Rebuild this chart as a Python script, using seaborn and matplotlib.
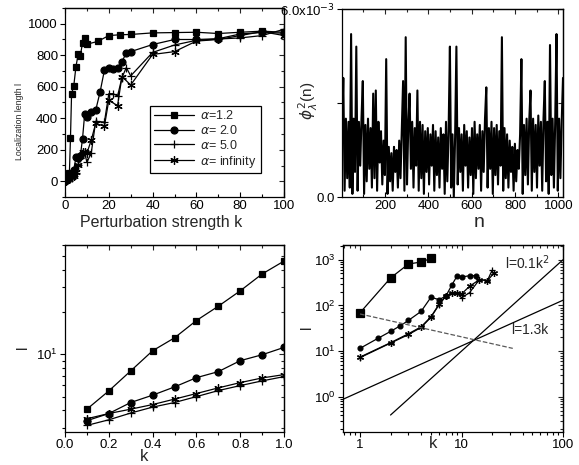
import numpy as np
import matplotlib
matplotlib.use("Agg")
import matplotlib.pyplot as plt
import seaborn as sns
from matplotlib.ticker import MultipleLocator, NullFormatter, FuncFormatter, FixedLocator

sns.set_style("ticks")
plt.rcParams["font.family"] = ["Liberation Sans", "DejaVu Sans"]
plt.rcParams["axes.linewidth"] = 0.9

# ---- top left: localization length vs perturbation strength
k_a12 = [0, 0.5, 1, 1.5, 2, 2.5, 3, 4, 5, 6, 7, 8, 9, 10, 15, 20, 25, 30, 40, 50, 60, 70, 80, 90, 100]
l_a12 = [5, 20, 35, 45, 50, 275, 555, 605, 728, 805, 795, 880, 910, 870, 888, 925, 930, 932,
         942, 944, 946, 938, 946, 953, 946]
k_a20 = [0, 0.5, 1, 1.5, 2, 2.5, 3, 4, 5, 6, 7, 8, 9, 10, 12, 14, 16, 18, 20, 22, 24, 26, 28, 30,
         40, 50, 60, 70, 80, 90, 100]
l_a20 = [3, 6, 11.5, 19, 27, 36, 47, 74, 151, 145, 160, 270, 430, 410, 440, 450, 566, 705, 716,
         712, 722, 760, 814, 823, 868, 900, 900, 905, 935, 945, 940]
k_a5 = [0, 0.5, 1, 2, 3, 4, 5, 6, 7, 8, 9, 10, 12, 14, 18, 20, 22, 24, 26, 28, 30,
        40, 50, 60, 70, 80, 90, 100]
l_a5 = [2, 4, 7, 15, 23, 33, 55, 105, 150, 185, 180, 120, 180, 380, 376, 556, 556, 541, 658, 722, 669,
        818, 865, 895, 903, 910, 925, 965]
k_ainf = [0, 0.5, 1, 2, 3, 4, 5, 6, 7, 8, 9, 10, 12, 14, 18, 20, 24, 26, 30,
          40, 50, 60, 70, 80, 90, 100]
l_ainf = [2, 4, 7.4, 15.3, 24, 34, 56, 105, 159, 188, 188, 178, 262, 367, 350, 514, 480, 665, 611,
          805, 823, 890, 900, 925, 950, 925]
legend_labels = [r"$\alpha$=1.2", r"$\alpha$= 2.0", r"$\alpha$= 5.0", r"$\alpha$= infinity"]

# ---- top right: eigenfunction intensity (units of 1e-3), every 6th site
n_sites = np.arange(1, 1025, 6)
phi2 = [1.9, 3.8, 0.2, 2.5, 0.6, 2.4, 0.3, 5.2, 0.1, 2.5,
        0.8, 4.8, 0.2, 2.4, 1.0, 2.5, 3.7, 0.1, 2.3, 0.5,
        2.5, 0.9, 2.2, 0.3, 3.3, 0.6, 3.4, 0.2, 2.4, 1.1,
        2.1, 0.4, 1.8, 0.7, 4.4, 0.1, 1.6, 0.5, 1.4, 0.2,
        1.6, 0.8, 1.5, 0.3, 1.8, 0.6, 2.2, 3.7, 0.2, 5.1,
        0.4, 2.3, 3.3, 0.9, 2.4, 0.3, 2.2, 1.0, 3.4, 0.2,
        2.4, 0.6, 2.3, 0.1, 2.1, 0.8, 2.2, 0.4, 2.0, 1.0,
        2.3, 0.2, 2.1, 0.7, 1.9, 0.3, 2.2, 0.9, 2.0, 0.1,
        2.4, 0.5, 2.1, 4.8, 0.3, 2.0, 0.0, 1.9, 4.8, 0.4,
        2.2, 0.8, 2.0, 0.2, 2.3, 1.0, 2.1, 0.3, 1.9, 0.7,
        2.2, 0.1, 2.4, 0.6, 2.0, 0.9, 2.3, 0.2, 2.1, 0.8,
        2.5, 3.5, 0.3, 2.2, 0.9, 2.4, 0.1, 2.2, 0.7, 2.3,
        0.4, 2.1, 1.0, 5.1, 0.2, 2.2, 0.6, 2.0, 0.3, 1.8,
        0.8, 1.6, 0.2, 1.7, 0.5, 1.5, 0.9, 2.0, 4.4, 0.1,
        2.3, 0.7, 2.5, 0.4, 2.4, 3.4, 0.2, 2.5, 0.8, 2.3,
        0.3, 2.6, 1.0, 2.4, 0.2, 2.5, 3.7, 0.5, 2.4, 0.1,
        4.85, 0.7, 2.5, 0.3, 2.4, 5.2, 0.2, 2.5, 0.6, 2.4,
        3.8]

# ---- bottom left: small k
k_small = [0.1, 0.2, 0.3, 0.4, 0.5, 0.6, 0.7, 0.8, 0.9, 1.0]
ls_a12 = [4.07, 5.49, 7.62, 10.6, 13.1, 17.4, 22.0, 28.3, 37.3, 46.1]
ls_a20 = [3.37, 3.79, 4.54, 5.12, 5.86, 6.82, 7.53, 9.01, 9.93, 11.2]
ls_ainf = [3.48, 3.79, 4.07, 4.39, 4.80, 5.26, 5.77, 6.29, 6.79, 7.17]
ls_a5 = [3.12, 3.42, 3.82, 4.21, 4.54, 5.00, 5.52, 5.99, 6.47, 6.94]

# ---- bottom right: log-log
kb_a12 = [1, 2, 3, 4, 5]
lb_a12 = [69, 399, 806, 891, 1067]
kb_a20 = [1, 1.5, 2, 2.5, 3, 4, 5, 6, 7, 8, 9, 10, 12, 14]
lb_a20 = [11.5, 19, 27, 36, 47, 74, 151, 134, 159, 275, 433, 418, 447, 447]
kb_a5 = [1, 2, 3, 4, 5, 6, 7, 8, 9, 10, 12, 15, 18, 20]
lb_a5 = [7.2, 15, 23, 33, 55, 103, 160, 185, 188, 147, 190, 367, 350, 585]
kb_ainf = [1, 2, 3, 4, 5, 6, 7, 8, 9, 10, 12, 15, 18, 21]
lb_ainf = [7.4, 15.3, 24, 34, 56.5, 105, 159, 188, 188, 178, 262, 367, 350, 514]
fit_k2 = np.array([2.0, 100.0])      # l = 0.1 k^2
fit_k1 = np.array([0.68, 100.0])     # l = 1.3 k
fit_kd = np.array([1.0, 32.0])       # dashed guide, l ~ k^-1/2

star = (6, 2, 0)
styles = [dict(marker="s", markersize=5), dict(marker="o", markersize=5),
          dict(marker="+", markersize=6), dict(marker=star, markersize=6)]


def line(ax, x, y, st, label=None, lw=0.9):
    sns.lineplot(x=x, y=y, ax=ax, color="k", linewidth=lw, estimator=None, sort=False,
                 markeredgecolor="k", markerfacecolor="k", markeredgewidth=0.9,
                 label=label, legend=False, **st)


def frame(ax, xmaj=None, xmin=None, ymaj=None, ymin=None, xdir="in", xpad=2):
    ax.tick_params(which="both", direction="out", labelsize=9.5, width=0.8, colors="k")
    ax.tick_params(axis="y", which="major", length=3.5, pad=1.5)
    ax.tick_params(axis="y", which="minor", length=2.2)
    ax.tick_params(axis="x", which="both", direction=xdir, pad=xpad)
    ax.tick_params(axis="x", which="major", length=3.5)
    ax.tick_params(axis="x", which="minor", length=2.2)
    sx = ax.secondary_xaxis("top")
    sy = ax.secondary_yaxis("right")
    for s in (sx, sy):
        s.tick_params(which="both", direction="in", width=0.8, labeltop=False, labelright=False)
        s.tick_params(which="major", length=3.5)
        s.tick_params(which="minor", length=2.2)
    if xmaj is not None:
        for a in (ax.xaxis, sx.xaxis):
            a.set_major_locator(xmaj())
            if xmin is not None:
                a.set_minor_locator(xmin())
    if ymaj is not None:
        for a in (ax.yaxis, sy.yaxis):
            a.set_major_locator(ymaj())
            if ymin is not None:
                a.set_minor_locator(ymin())
    sx.xaxis.set_major_formatter(NullFormatter())
    sx.xaxis.set_minor_formatter(NullFormatter())
    sy.yaxis.set_major_formatter(NullFormatter())
    sy.yaxis.set_minor_formatter(NullFormatter())
    for sp in ax.spines.values():
        sp.set_visible(True)
        sp.set_color("k")


def place_label(axis, x, y):
    axis.set_label_coords(x, y)
    axis.label.set_va("center")
    axis.label.set_ha("center")


fig = plt.figure(figsize=(5.79, 4.65), dpi=100)
W, H = 579, 465


def add(x0, y0, x1, y1):
    return fig.add_axes([x0 / W, 1 - y1 / H, (x1 - x0) / W, (y1 - y0) / H])


# top left
ax1 = add(65, 8, 284, 197)
for kk, ll, st, lab in zip([k_a12, k_a20, k_a5, k_ainf], [l_a12, l_a20, l_a5, l_ainf], styles, legend_labels):
    line(ax1, kk, ll, st, label=lab)
ax1.set_xlim(0, 100)
ax1.set_ylim(-100, 1100)
frame(ax1, lambda: MultipleLocator(20), lambda: MultipleLocator(10),
      lambda: MultipleLocator(200), lambda: MultipleLocator(100))
ax1.set_xlabel("Perturbation strength k", fontsize=11.5)
place_label(ax1.xaxis, 0.44, -0.135)
ax1.set_ylabel("Localization length l", fontsize=6.3)
place_label(ax1.yaxis, -0.21, 0.40)
h, lbl = ax1.get_legend_handles_labels()
ax1.legend(h, lbl, loc="lower left", bbox_to_anchor=(0.39, 0.125), fontsize=9, frameon=True,
           fancybox=False, edgecolor="k", framealpha=1, handlelength=3.2, borderpad=0.3,
           labelspacing=0.14, handletextpad=0.5, borderaxespad=0).get_frame().set_linewidth(0.9)

# top right
ax2 = add(342, 9, 563, 197)
sns.lineplot(x=n_sites, y=np.array(phi2) * 1e-3, ax=ax2, color="k", linewidth=1.5,
             estimator=None, sort=False)
ax2.set_xlim(n_sites[0], n_sites[-1])
ax2.set_ylim(0, 6e-3)
frame(ax2, lambda: FixedLocator([200, 400, 600, 800, 1000]), lambda: FixedLocator([100, 300, 500, 700, 900]),
      lambda: FixedLocator([0, 3e-3, 6e-3]), None)
ax2.set_yticks([0, 3e-3, 6e-3])
ax2.set_yticklabels(["0.0", "", r"6.0x10$^{-3}$"])
ax2.set_xlabel("n", fontsize=14)
place_label(ax2.xaxis, 0.62, -0.135)
ax2.set_ylabel(r"$\phi_{\lambda}^{2}$(n)", fontsize=11)
place_label(ax2.yaxis, -0.15, 0.51)

# bottom left
ax3 = add(65, 245, 284, 432)
for ll, st in zip([ls_a12, ls_a20, ls_a5, ls_ainf], styles):
    line(ax3, k_small, ll, st)
ax3.set_yscale("log")
ax3.set_xlim(0, 1.0)
ax3.set_ylim(2.8, 60)
frame(ax3, lambda: MultipleLocator(0.2), lambda: MultipleLocator(0.1), xdir="out", xpad=1.5)
ax3.xaxis.set_major_formatter(FuncFormatter(lambda v, p: f"{v:.1f}"))
ax3.yaxis.set_minor_formatter(NullFormatter())
ax3.set_xlabel("k", fontsize=12)
place_label(ax3.xaxis, 0.36, -0.13)
ax3.set_ylabel("l", fontsize=11)
place_label(ax3.yaxis, -0.19, 0.455)

# bottom right
ax4 = add(343, 245, 563, 432)
for kk, ll, st in zip([kb_a12, kb_a20, kb_a5, kb_ainf], [lb_a12, lb_a20, lb_a5, lb_ainf], styles):
    st = dict(st)
    if st["marker"] != "s":
        st["markersize"] = 3.5 if st["marker"] == "o" else 5
    else:
        st["markersize"] = 6
    line(ax4, kk, ll, st)
sns.lineplot(x=fit_k2, y=0.1 * fit_k2 ** 2, ax=ax4, color="k", linewidth=0.9)
sns.lineplot(x=fit_k1, y=1.3 * fit_k1, ax=ax4, color="k", linewidth=0.9)
sns.lineplot(x=fit_kd, y=65 / np.sqrt(fit_kd), ax=ax4, color="0.35", linewidth=0.9, linestyle="--")
ax4.set_xscale("log")
ax4.set_yscale("log")
ax4.set_xlim(0.68, 100)
ax4.set_ylim(0.17, 2100)
frame(ax4, xdir="out", xpad=1.5)
ax4.xaxis.set_major_formatter(FuncFormatter(lambda v, p: f"{v:g}"))
ax4.yaxis.set_minor_formatter(NullFormatter())
ax4.xaxis.set_minor_formatter(NullFormatter())
ax4.text(0.735, 0.905, r"l=0.1k$^2$", transform=ax4.transAxes, fontsize=10, va="center", ha="left")
ax4.text(0.765, 0.545, "l=1.3k", transform=ax4.transAxes, fontsize=10, va="center", ha="left")
ax4.set_xlabel("k", fontsize=12)
place_label(ax4.xaxis, 0.41, -0.06)
ax4.set_ylabel("l", fontsize=11)
place_label(ax4.yaxis, -0.165, 0.56)

fig.savefig("out.png", dpi=100)
